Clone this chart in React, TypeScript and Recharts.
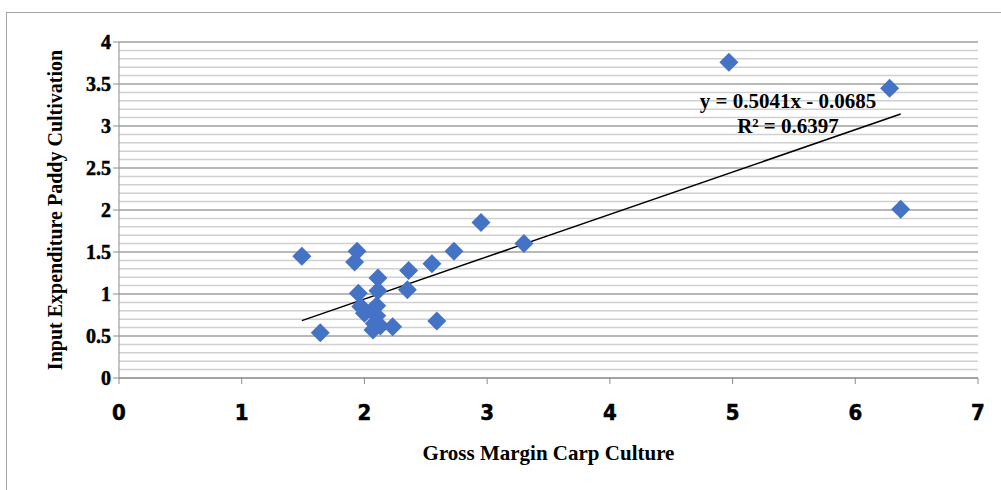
import React from "react";
import {
	ScatterChart,
	Scatter,
	XAxis,
	YAxis,
	CartesianGrid,
	ReferenceLine,
} from "recharts";

// values
const grossMargin = [
	1.49, 1.64, 1.94, 1.92, 1.95, 1.97, 2.0, 2.06, 2.1, 2.1, 2.08, 2.07, 2.13,
	2.11, 2.11, 2.23, 2.35, 2.36, 2.55, 2.59, 2.73, 2.95, 3.3, 4.97, 6.28, 6.37,
];
const inputExpenditure = [
	1.45, 0.54, 1.51, 1.38, 1.01, 0.85, 0.77, 0.8, 0.86, 0.74, 0.65, 0.57, 0.62,
	1.19, 1.04, 0.61, 1.05, 1.28, 1.36, 0.68, 1.51, 1.85, 1.6, 3.76, 3.45, 2.01,
];

const xTicks = [0, 1, 2, 3, 4, 5, 6, 7];
const yTicks = [0, 0.5, 1, 1.5, 2, 2.5, 3, 3.5, 4];
const yTickLabels = ["0", "0.5", "1", "1.5", "2", "2.5", "3", "3.5", "4"];

const slope = 0.5041;
const intercept = -0.0685;
const rSquared = 0.6397;

const points = grossMargin.map((x, i) => ({ x, y: inputExpenditure[i] }));

const minX = Math.min(...grossMargin);
const maxX = Math.max(...grossMargin);
const trend = [
	{ x: minX, y: slope * minX + intercept },
	{ x: maxX, y: slope * maxX + intercept },
];

// minor gridlines every 0.1 between the major ones
const minorTicks: number[] = [];
for (let i = 1; i < 40; i++) {
	if (i % 5 !== 0) minorTicks.push(i / 10);
}

const serif = "'Liberation Serif', 'DejaVu Serif', serif";
const narrow = "'Liberation Sans Narrow', 'DejaVu Sans Condensed', sans-serif";

const Diamond = (props: any) => {
	const { cx, cy } = props;
	const r = 9.5;
	return (
		<path
			d={`M${cx},${cy - r} L${cx + r},${cy} L${cx},${cy + r} L${cx - r},${cy} Z`}
			fill="#4472C4"
		/>
	);
};

const renderYTick = (props: any) => {
	const { x, y, payload } = props;
	return (
		<text
			key={payload.value}
			x={x}
			y={y}
			textAnchor="end"
			dominantBaseline="central"
			style={{
				fontFamily: serif,
				fontWeight: 700,
				fontSize: 20,
				fill: "#000",
				stroke: "#000",
				strokeWidth: 0.5,
			}}
		>
			{yTickLabels[yTicks.indexOf(payload.value)]}
		</text>
	);
};

const renderXTick = (props: any) => {
	const { x, y, payload } = props;
	return (
		<text
			key={payload.value}
			x={x}
			y={y + 8}
			textAnchor="middle"
			dominantBaseline="central"
			style={{
				fontFamily: narrow,
				fontWeight: 700,
				fontSize: 22,
				fill: "#000",
				stroke: "#000",
				strokeWidth: 0.5,
			}}
		>
			{payload.value}
		</text>
	);
};

const App = () => {
	return (
		<div
			style={{
				position: "absolute",
				left: 0,
				top: 0,
				width: 1001,
				height: 490,
				background: "#fff",
			}}
		>
			<div
				style={{
					position: "absolute",
					left: 6,
					top: 12,
					right: 0,
					bottom: 0,
					borderTop: "1.5px solid #a6a6a6",
					borderLeft: "1.5px solid #a6a6a6",
				}}
			/>
			<div style={{ position: "absolute", left: 0, top: 0 }}>
				<ScatterChart
					width={1001}
					height={490}
					margin={{ top: 42, right: 23, left: 0, bottom: 0 }}
				>
					{minorTicks.map((v) => (
						<ReferenceLine
							key={v}
							y={v}
							stroke="#d0d0d0"
							strokeWidth={1.5}
						/>
					))}
					<CartesianGrid
						vertical={false}
						stroke="#a0a0a0"
						strokeWidth={1.5}
					/>
					<XAxis
						type="number"
						dataKey="x"
						domain={[0, 7]}
						ticks={xTicks}
						height={112}
						stroke="#8c8c8c"
						tickSize={6}
						tickMargin={20}
						tick={renderXTick}
						label={{
							content: (p: any) => (
								<text
									x={p.viewBox.x + p.viewBox.width / 2}
									y={p.viewBox.y + 82}
									textAnchor="middle"
									fontFamily={serif}
									fontWeight="bold"
									fontSize={21}
									fill="#000"
								>
									Gross Margin Carp Culture
								</text>
							),
						}}
					/>
					<YAxis
						type="number"
						dataKey="y"
						domain={[0, 4]}
						ticks={yTicks}
						width={119}
						stroke="#8c8c8c"
						tickSize={6}
						tickMargin={2}
						tick={renderYTick}
						label={{
							content: (p: any) => {
								const cx = 55;
								const cy = p.viewBox.y + p.viewBox.height / 2;
								return (
									<text
										x={cx}
										y={cy}
										transform={`rotate(-90, ${cx}, ${cy})`}
										textAnchor="middle"
										dominantBaseline="central"
										fontFamily={serif}
										fontWeight="bold"
										fontSize={20}
										fill="#000"
									>
										Input Expenditure Paddy Cultivation
									</text>
								);
							},
						}}
					/>
					<Scatter
						data={points}
						shape={<Diamond />}
						isAnimationActive={false}
					/>
					<ReferenceLine
						segment={trend}
						stroke="#000"
						strokeWidth={1.5}
						ifOverflow="visible"
					/>
				</ScatterChart>
			</div>
			<div
				style={{
					position: "absolute",
					left: 688,
					top: 89,
					width: 200,
					textAlign: "center",
					fontFamily: serif,
					fontWeight: "bold",
					fontSize: 21,
					lineHeight: "25px",
					color: "#000",
				}}
			>
				<div>y = {slope}x - {Math.abs(intercept)}</div>
				<div>R² = {rSquared}</div>
			</div>
		</div>
	);
};

export default App;
